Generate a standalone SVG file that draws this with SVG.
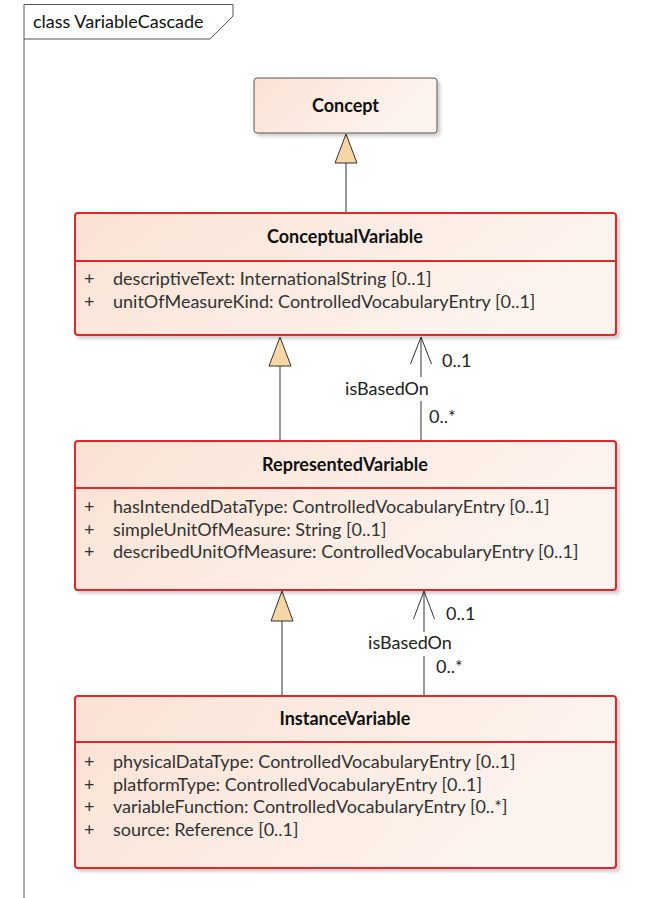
<svg xmlns="http://www.w3.org/2000/svg" width="658" height="898" viewBox="0 0 658 898">
  <defs>
    <linearGradient id="peach" x1="0" y1="0" x2="1" y2="0.3">
      <stop offset="0" stop-color="#fae2d4"/>
      <stop offset="1" stop-color="#fdf4ef"/>
    </linearGradient>
    <filter id="shadow" x="-5%" y="-5%" width="112%" height="120%">
      <feDropShadow dx="3" dy="3" stdDeviation="1.5" flood-color="#000" flood-opacity="0.18"/>
    </filter>
  </defs>
  <style>
    text { font-family: Lato, "Liberation Sans", sans-serif; font-size: 18px; fill: #333; }
    .title { font-weight: bold; fill: #111; text-anchor: middle; }
    .frame { fill: none; stroke: #555; stroke-width: 1; }
    .cls { fill: url(#peach); stroke: #e3262b; stroke-width: 2; filter: url(#shadow); }
    .plain { fill: url(#peach); stroke: #555; stroke-width: 1; filter: url(#shadow); }
    .div { stroke: #e3262b; stroke-width: 2; }
    .edge { fill: none; stroke: #333; stroke-width: 1; }
    .tri { fill: #f6d6a6; stroke: #333; stroke-width: 1; }
    .lbl { fill: #222; }
  </style>

  <rect width="658" height="898" fill="#fff"/>

  <!-- diagram frame with its name tab -->
  <g id="frame">
    <path class="frame" d="M24,898 V4.5 H233 V16 L210,39 H24"/>
    <text x="33" y="28" style="fill:#111">class VariableCascade</text>
  </g>

  <!-- connectors -->
  <g id="connectors">
    <!-- generalizations -->
    <line class="edge" x1="346" y1="163" x2="346" y2="213"/>
    <polygon class="tri" points="346,134 335,163 357,163"/>
    <line class="edge" x1="280" y1="366" x2="280" y2="441"/>
    <polygon class="tri" points="280,337 269,366 291,366"/>
    <line class="edge" x1="282" y1="621" x2="282" y2="696"/>
    <polygon class="tri" points="282,591 271,621 293,621"/>

    <!-- isBasedOn: RepresentedVariable to ConceptualVariable -->
    <line class="edge" x1="421" y1="337" x2="421" y2="441"/>
    <polyline class="edge" points="410.5,364 421,337 431.5,364"/>
    <rect x="343" y="377" width="88" height="24" fill="#fff"/>
    <text class="lbl" x="387" y="395" text-anchor="middle">isBasedOn</text>
    <text class="lbl" x="442" y="367">0..1</text>
    <text class="lbl" x="429" y="423">0..*</text>

    <!-- isBasedOn: InstanceVariable to RepresentedVariable -->
    <line class="edge" x1="424" y1="591" x2="424" y2="696"/>
    <polyline class="edge" points="413.5,619 424,591 434.5,619"/>
    <rect x="366" y="632" width="88" height="24" fill="#fff"/>
    <text class="lbl" x="410" y="649" text-anchor="middle">isBasedOn</text>
    <text class="lbl" x="446" y="620">0..1</text>
    <text class="lbl" x="436" y="673">0..*</text>
  </g>

  <g id="Concept">
    <rect class="plain" x="254" y="78" width="183" height="55" rx="3"/>
    <text class="title" x="345.5" y="112">Concept</text>
  </g>

  <g id="ConceptualVariable">
    <rect class="cls" x="75" y="213" width="541" height="122" rx="3"/>
    <line class="div" x1="75" y1="261" x2="616" y2="261"/>
    <text class="title" x="345" y="243">ConceptualVariable</text>
    <text x="84" y="285">+</text>
    <text x="113" y="285">descriptiveText: InternationalString [0..1]</text>
    <text x="84" y="308">+</text>
    <text x="113" y="308">unitOfMeasureKind: ControlledVocabularyEntry [0..1]</text>
  </g>

  <g id="RepresentedVariable">
    <rect class="cls" x="75" y="441" width="541" height="149" rx="3"/>
    <line class="div" x1="75" y1="488" x2="616" y2="488"/>
    <text class="title" x="345" y="471">RepresentedVariable</text>
    <text x="84" y="513">+</text>
    <text x="113" y="513">hasIntendedDataType: ControlledVocabularyEntry [0..1]</text>
    <text x="84" y="536">+</text>
    <text x="113" y="536">simpleUnitOfMeasure: String [0..1]</text>
    <text x="84" y="558">+</text>
    <text x="113" y="558">describedUnitOfMeasure: ControlledVocabularyEntry [0..1]</text>
  </g>

  <g id="InstanceVariable">
    <rect class="cls" x="75" y="696" width="541" height="172" rx="3"/>
    <line class="div" x1="75" y1="742" x2="616" y2="742"/>
    <text class="title" x="345" y="725">InstanceVariable</text>
    <text x="84" y="768">+</text>
    <text x="113" y="768">physicalDataType: ControlledVocabularyEntry [0..1]</text>
    <text x="84" y="791">+</text>
    <text x="113" y="791">platformType: ControlledVocabularyEntry [0..1]</text>
    <text x="84" y="813">+</text>
    <text x="113" y="813">variableFunction: ControlledVocabularyEntry [0..*]</text>
    <text x="84" y="836">+</text>
    <text x="113" y="836">source: Reference [0..1]</text>
  </g>
</svg>
